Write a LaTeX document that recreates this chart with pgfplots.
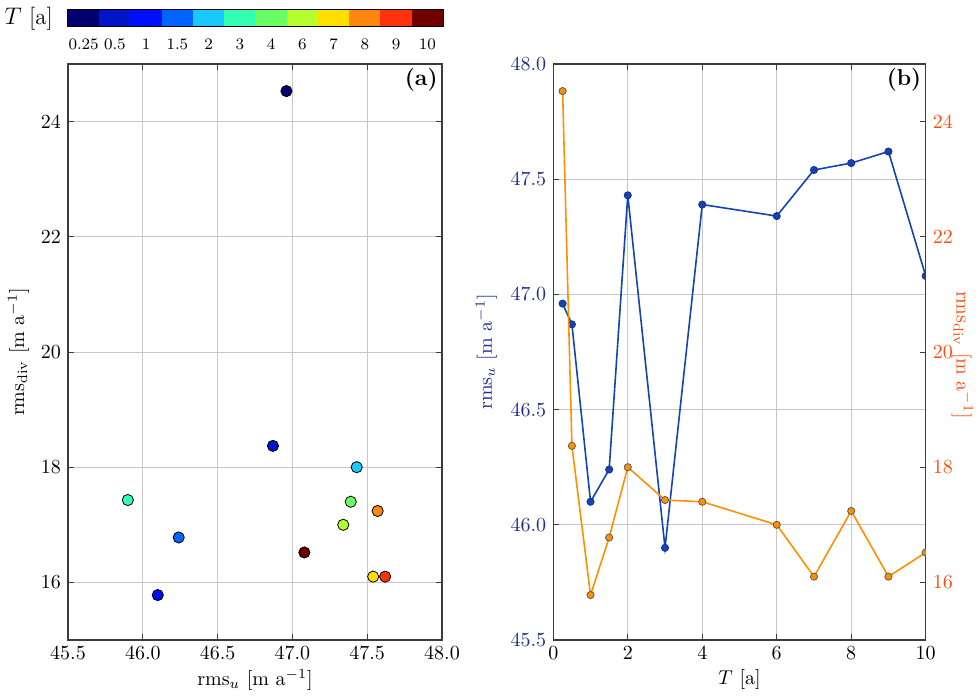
\documentclass[border=0pt]{standalone}
\usepackage{pgfplots}
\pgfplotsset{compat=1.18}
\usepackage{pgfplotstable}
\definecolor{c1}{RGB}{0,0,110}
\definecolor{c2}{RGB}{0,20,200}
\definecolor{c3}{RGB}{0,15,250}
\definecolor{c4}{RGB}{0,100,255}
\definecolor{c5}{RGB}{25,200,255}
\definecolor{c6}{RGB}{50,255,180}
\definecolor{c7}{RGB}{105,255,100}
\definecolor{c8}{RGB}{180,255,45}
\definecolor{c9}{RGB}{255,222,0}
\definecolor{c10}{RGB}{255,135,15}
\definecolor{c11}{RGB}{255,50,12}
\definecolor{c12}{RGB}{110,0,0}
\definecolor{ublue}{RGB}{18,68,180}
\definecolor{ulab}{RGB}{30,45,140}
\definecolor{dorange}{RGB}{255,145,0}
\definecolor{ored}{RGB}{255,75,15}
\definecolor{framegray}{RGB}{60,60,60}

\pgfplotstableread{
T u div cls
0.25 46.96 24.53 a
0.5 46.87 18.37 b
1 46.10 15.78 c
1.5 46.24 16.78 d
2 47.43 18.00 e
3 45.90 17.43 f
4 47.39 17.40 g
6 47.34 17.00 h
7 47.54 16.10 i
8 47.57 17.24 j
9 47.62 16.10 k
10 47.08 16.52 l
}\datatable

\pgfplotsset{
  mystyle/.style={
    scale only axis,
    axis line style={framegray, line width=0.7pt},
    tick style={framegray, line width=0.5pt},
    tick align=inside,
    major tick length=3pt,
    grid=major,
    grid style={black!22, line width=0.5pt},
    clip marker paths=true,
  },
}

\begin{document}
\begin{tikzpicture}
\path[use as bounding box] (-34pt,-28.5pt) rectangle (454pt,320pt);

% ---------- (a) scatter ----------
\begin{axis}[mystyle,
  at={(0pt,0pt)}, anchor=south west,
  width=187pt, height=288pt,
  xmin=45.5, xmax=48, ymin=15, ymax=25,
  xtick={45.5,46,46.5,47,47.5,48},
  ytick={16,18,20,22,24},
  xticklabel style={/pgf/number format/.cd, fixed, fixed zerofill, precision=1},
  xlabel={rms$_u$ [m a$^{-1}$]},
  ylabel={rms$_{\mathrm{div}}$ [m a$^{-1}$]},
  xlabel style={yshift=2pt},
  ylabel style={yshift=-1pt},
]
\addplot[scatter, only marks, mark=*, mark size=2.8pt,
  scatter src=explicit symbolic,
  scatter/classes={
    a={mark=*,fill=c1,draw=black},
    b={mark=*,fill=c2,draw=black},
    c={mark=*,fill=c3,draw=black},
    d={mark=*,fill=c4,draw=black},
    e={mark=*,fill=c5,draw=black},
    f={mark=*,fill=c6,draw=black},
    g={mark=*,fill=c7,draw=black},
    h={mark=*,fill=c8,draw=black},
    i={mark=*,fill=c9,draw=black},
    j={mark=*,fill=c10,draw=black},
    k={mark=*,fill=c11,draw=black},
    l={mark=*,fill=c12,draw=black}}]
  table[x=u, y=div, meta=cls] {\datatable};
\node[anchor=north east, inner sep=2pt, font=\bfseries\fontsize{11.5}{13}\selectfont] at (rel axis cs:1,1) {(a)};
\end{axis}

% ---------- colour bar ----------
\begin{axis}[name=cbar,
  at={(0pt,306.5pt)}, anchor=south west, scale only axis,
  width=187.5pt, height=8.5pt,
  xmin=0, xmax=12, ymin=0, ymax=1,
  ytick=\empty,
  xtick={0.5,1.5,...,11.5},
  xticklabels={0.25,0.5,1,1.5,2,3,4,6,7,8,9,10},
  xticklabel style={font=\footnotesize, yshift=-2.5pt},
  major tick length=0pt,
  axis line style={black, line width=0.5pt},
  axis on top,
  ybar, bar width=1, bar shift=0pt,
]
\addplot[fill=c1, draw=c1, line width=0.2pt] coordinates {(0.5,1)};
\addplot[fill=c2, draw=c2, line width=0.2pt] coordinates {(1.5,1)};
\addplot[fill=c3, draw=c3, line width=0.2pt] coordinates {(2.5,1)};
\addplot[fill=c4, draw=c4, line width=0.2pt] coordinates {(3.5,1)};
\addplot[fill=c5, draw=c5, line width=0.2pt] coordinates {(4.5,1)};
\addplot[fill=c6, draw=c6, line width=0.2pt] coordinates {(5.5,1)};
\addplot[fill=c7, draw=c7, line width=0.2pt] coordinates {(6.5,1)};
\addplot[fill=c8, draw=c8, line width=0.2pt] coordinates {(7.5,1)};
\addplot[fill=c9, draw=c9, line width=0.2pt] coordinates {(8.5,1)};
\addplot[fill=c10, draw=c10, line width=0.2pt] coordinates {(9.5,1)};
\addplot[fill=c11, draw=c11, line width=0.2pt] coordinates {(10.5,1)};
\addplot[fill=c12, draw=c12, line width=0.2pt] coordinates {(11.5,1)};
\end{axis}
\node[anchor=east, font=\fontsize{11.5}{13}\selectfont] at ([xshift=-4pt]cbar.west) {$T$ [a]};

% ---------- (b) left y ----------
\begin{axis}[mystyle,
  at={(242.65pt,0pt)}, anchor=south west,
  width=186.2pt, height=288pt,
  xmin=0, xmax=10, ymin=45.5, ymax=48,
  xtick={0,2,4,6,8,10},
  ytick={45.5,46,46.5,47,47.5,48},
  ytick pos=left,
  yticklabel style={ulab, /pgf/number format/.cd, fixed, fixed zerofill, precision=1},
  xlabel={$T$ [a]},
  ylabel={rms$_u$ [m a$^{-1}$]},
  ylabel style={ulab},
  xlabel style={yshift=2pt},
]
\addplot[ublue, line width=0.8pt, mark=*, mark size=1.8pt,
  mark options={fill=ublue, draw=ulab, line width=0.4pt}]
  table[x=T, y=u] {\datatable};
\end{axis}

% ---------- (b) right y ----------
\begin{axis}[mystyle, grid=none, name=bR,
  at={(242.65pt,0pt)}, anchor=south west,
  width=186.2pt, height=288pt,
  xmin=0, xmax=10, ymin=15, ymax=25,
  axis y line*=right, axis x line=none,
  ytick={16,18,20,22,24},
  yticklabel style={ored},
]
\addplot[dorange, line width=0.8pt, mark=*, mark size=1.8pt,
  mark options={fill=dorange, draw=black!65, line width=0.4pt}]
  table[x=T, y=div] {\datatable};
\node[anchor=north east, inner sep=2pt, font=\bfseries\fontsize{11.5}{13}\selectfont] at (rel axis cs:1,1) {(b)};
\end{axis}
\node[rotate=-90, ored] at ([xshift=18.3pt, yshift=-1.5pt]bR.east) {rms$_{\mathrm{div}}$ [m a$^{-1}$]};
\end{tikzpicture}
\end{document}
